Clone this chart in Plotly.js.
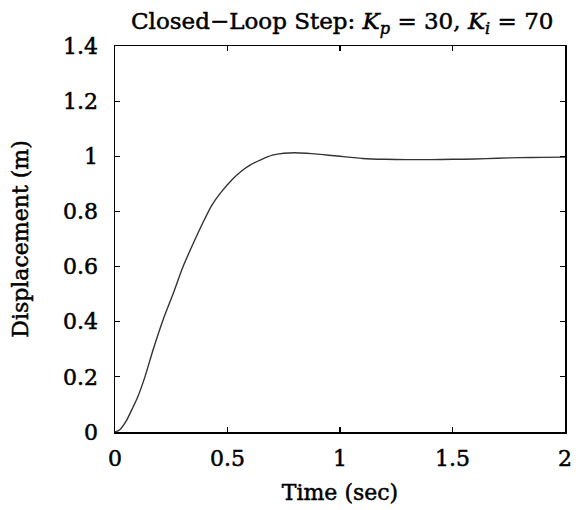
<!DOCTYPE html>
<html>
<head>
<meta charset="utf-8">
<script src="https://cdn.plot.ly/plotly-3.0.1.min.js"></script>
<style>
html, body { margin: 0; padding: 0; background: #fff; }
#chart { width: 580px; height: 510px; }
#chart svg text { stroke: #000; stroke-width: 0.5px; }
</style>
</head>
<body>
<div id="chart"></div>
<script>
var timeSec = [0, 0.02, 0.05, 0.08, 0.1, 0.133, 0.17, 0.215, 0.26, 0.3, 0.35, 0.39, 0.43, 0.47, 0.52, 0.56, 0.6, 0.65, 0.7, 0.75, 0.8, 0.85, 0.9, 0.95, 1.0, 1.05, 1.1, 1.2, 1.3, 1.4, 1.5, 1.6, 1.7, 1.8, 1.9, 2.0];
var displacement = [0, 0.007, 0.04, 0.09, 0.125, 0.2, 0.3, 0.41, 0.505, 0.595, 0.688, 0.758, 0.822, 0.868, 0.915, 0.945, 0.968, 0.988, 1.004, 1.011, 1.013, 1.011, 1.008, 1.004, 1.0, 0.996, 0.992, 0.989, 0.988, 0.988, 0.989, 0.99, 0.993, 0.995, 0.996, 0.997];
var xTicks = [0, 0.5, 1, 1.5, 2];
var xTickLabels = ['0', '0.5', '1', '1.5', '2'];
var yTicks = [0, 0.2, 0.4, 0.6, 0.8, 1, 1.2, 1.4];
var yTickLabels = ['0', '0.2', '0.4', '0.6', '0.8', '1', '1.2', '1.4'];

var font = 'DejaVu Serif, serif';
var fsize = 22;
var trace = {
  x: timeSec, y: displacement, type: 'scatter', mode: 'lines',
  line: { color: '#333333', width: 1.4, shape: 'spline', smoothing: 0.6 },
  hoverinfo: 'skip'
};
var axisCommon = {
  showgrid: false, zeroline: false, showline: true, mirror: 'ticks',
  linecolor: '#000', linewidth: 1.5, ticks: 'inside', ticklen: 5,
  tickcolor: '#000', tickwidth: 1.2,
  tickfont: { family: font, size: fsize, color: '#000' }
};
var layout = {
  width: 580, height: 510,
  margin: { l: 115, r: 15, t: 46, b: 78 },
  paper_bgcolor: '#fff', plot_bgcolor: '#fff',
  showlegend: false,
  title: {
    text: 'Closed\u2212Loop Step: <i>K</i><sub><i>p</i></sub> = 30, <i>K</i><sub><i>i</i></sub> = 70',
    font: { family: font, size: 23, color: '#000' },
    x: 0.59, xanchor: 'center', y: 0.975, yanchor: 'top'
  },
  xaxis: Object.assign({}, axisCommon, {
    range: [0, 2], tickvals: xTicks, ticktext: xTickLabels, ticklabelstandoff: 6,
    title: { text: 'Time (sec)', font: { family: font, size: fsize, color: '#000' }, standoff: 14 }
  }),
  yaxis: Object.assign({}, axisCommon, {
    range: [0, 1.4], tickvals: yTicks, ticktext: yTickLabels, ticklabelstandoff: 11,
    title: { text: 'Displacement (m)', font: { family: font, size: fsize, color: '#000' }, standoff: 28 }
  })
};
Plotly.newPlot('chart', [trace], layout, { displayModeBar: false, staticPlot: true });
</script>
</body>
</html>
